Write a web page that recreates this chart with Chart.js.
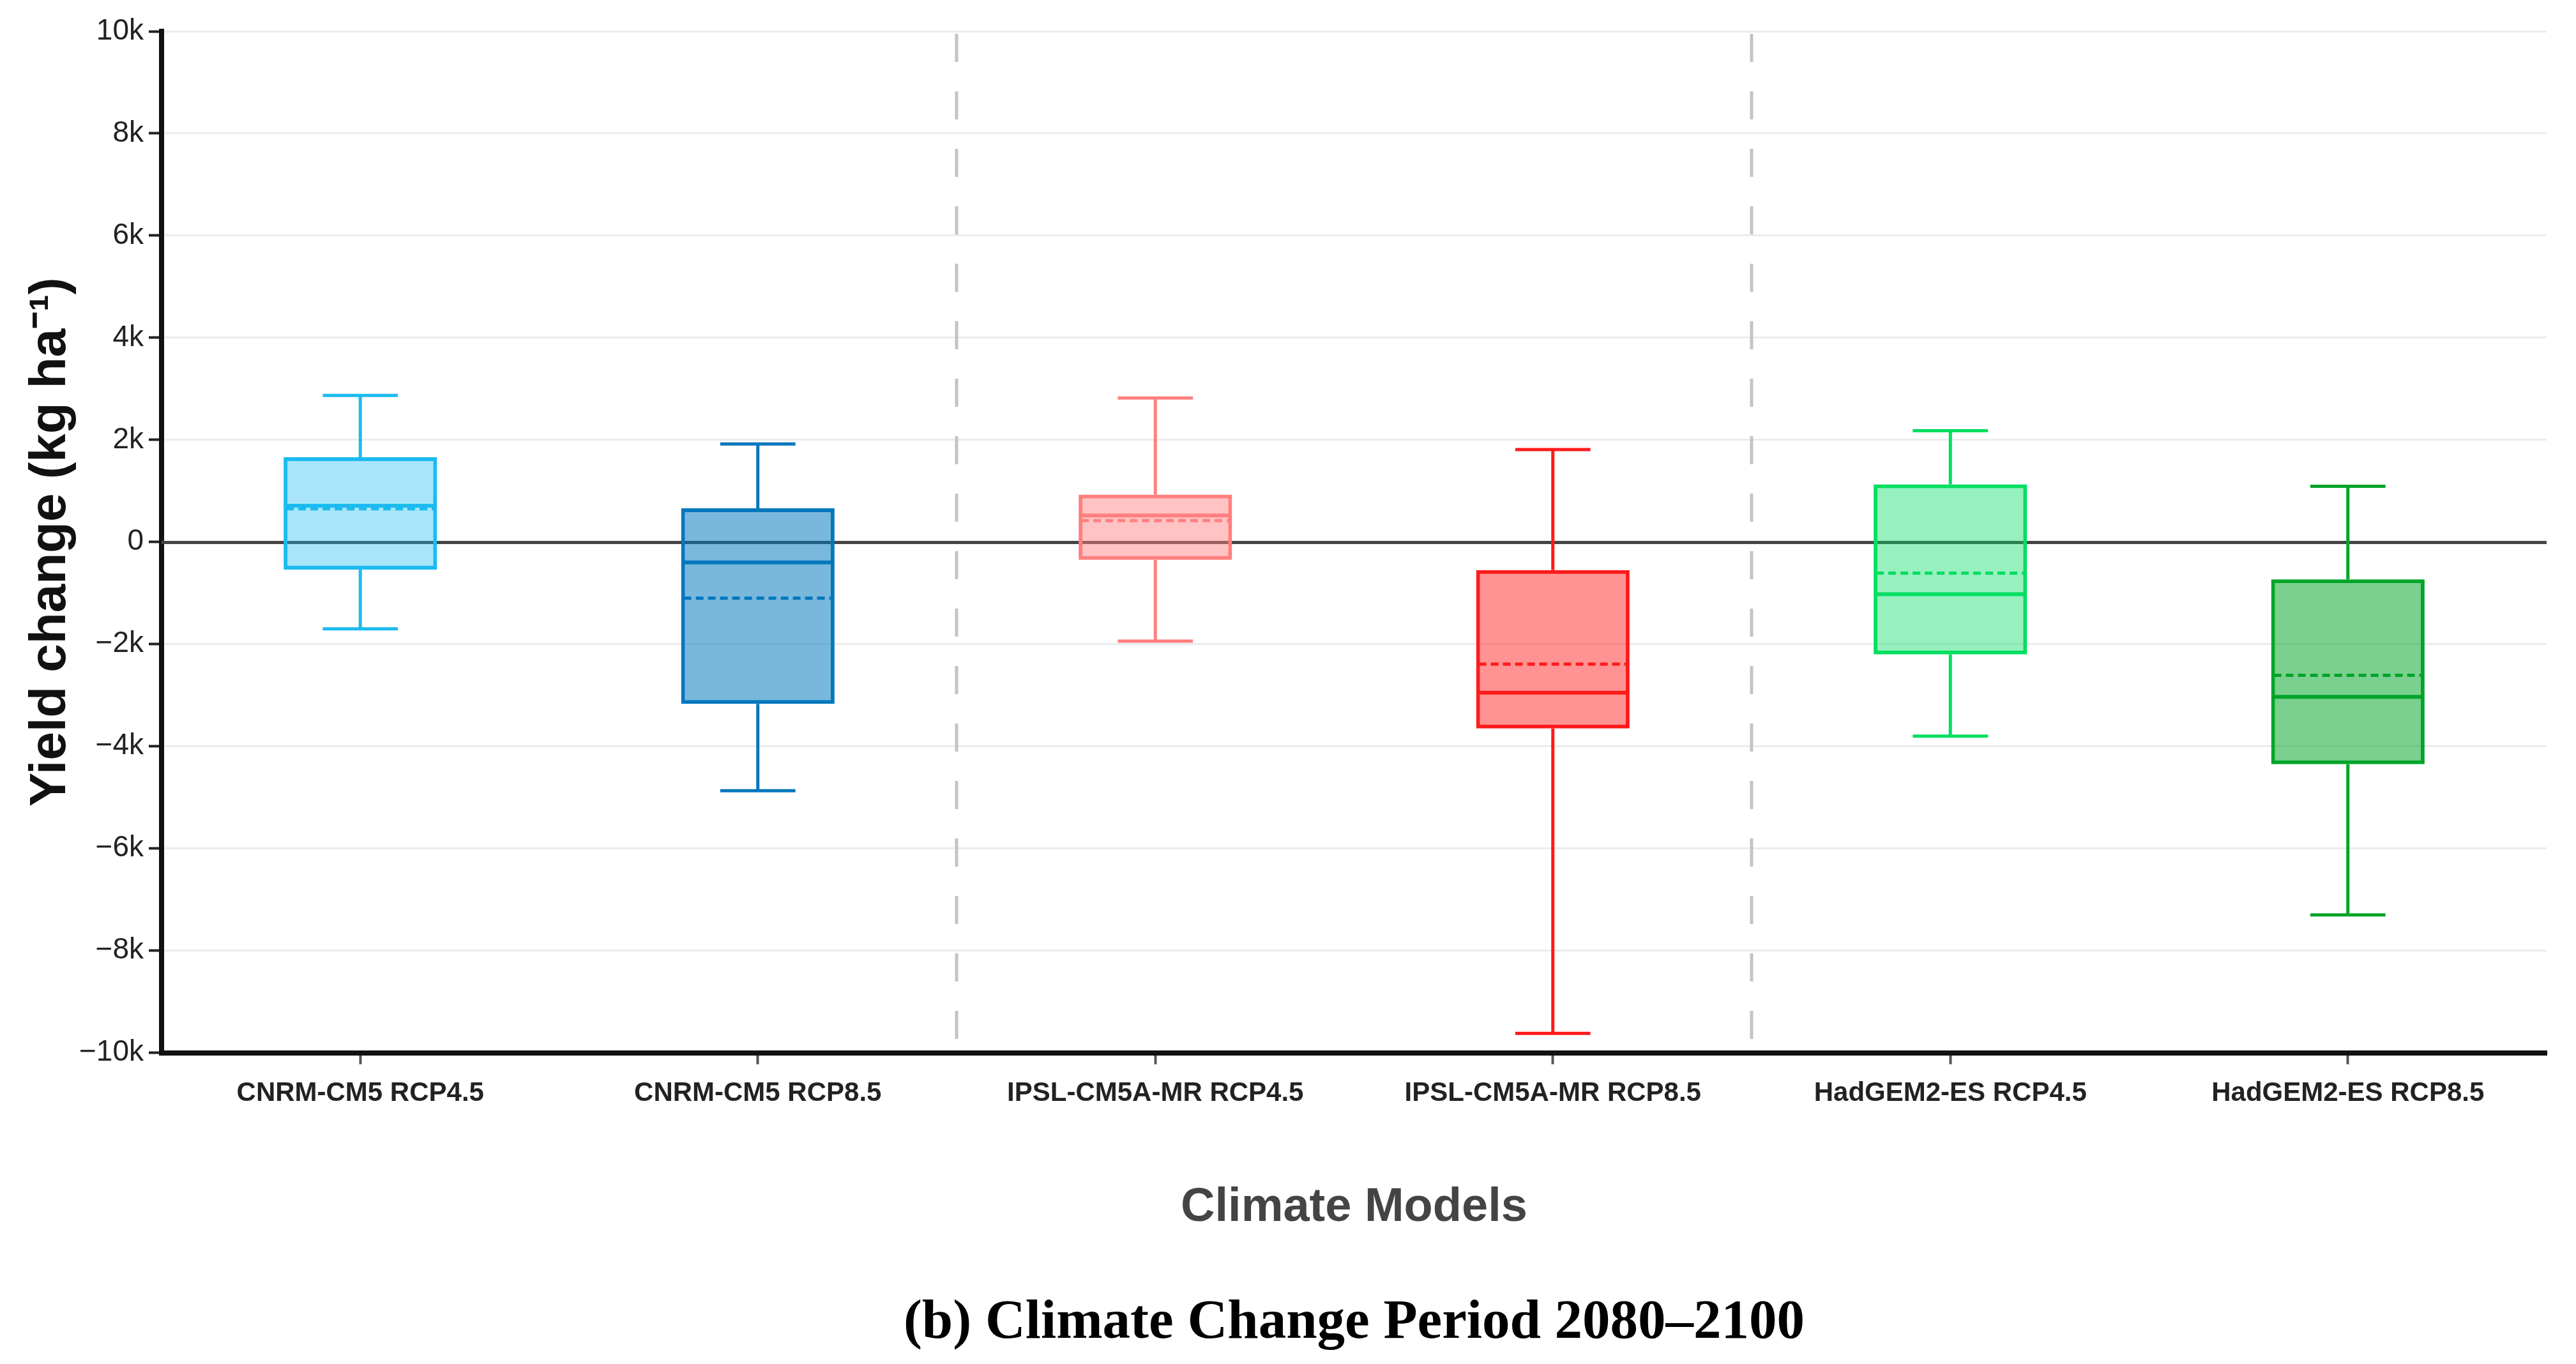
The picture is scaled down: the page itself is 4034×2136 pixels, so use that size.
<!DOCTYPE html>
<html>
<head>
<meta charset="utf-8">
<script src="https://cdn.jsdelivr.net/npm/chart.js@4.4.1/dist/chart.umd.min.js"></script>
<style>
    html, body { margin: 0; padding: 0; background: #fff; }
    #wrap { width: 4034px; height: 2136px; }
</style>
</head>
<body>
<div id="wrap"><canvas id="yieldChart"></canvas></div>
<script>
// values, kg/ha
const models = ['CNRM-CM5 RCP4.5', 'CNRM-CM5 RCP8.5', 'IPSL-CM5A-MR RCP4.5', 'IPSL-CM5A-MR RCP8.5', 'HadGEM2-ES RCP4.5', 'HadGEM2-ES RCP8.5'];
const whiskerLow = [-1700, -4870, -1940, -9620, -3800, -7300];
const q1 = [-540, -3170, -350, -3650, -2200, -4350];
const median = [710, -400, 520, -2950, -1020, -3030];
const mean = [650, -1100, 420, -2390, -610, -2610];
const q3 = [1660, 660, 930, -550, 1130, -730];
const whiskerHigh = [2870, 1920, 2820, 1810, 2180, 1090];
const separatorsAfter = [1, 3];

const lineColors = ['#1bbbf0', '#0277bd', '#ff7f7f', '#ff1a1a', '#00de60', '#00a428'];
const fillAlpha = [0.38, 0.53, 0.47, 0.47, 0.41, 0.52];

function withAlpha(hex, a) {
    const n = parseInt(hex.slice(1), 16);
    return 'rgba(' + (n >> 16) + ',' + ((n >> 8) & 255) + ',' + (n & 255) + ',' + a + ')';
}

function kLabel(v) {
    if (v === 0) return '0';
    return (v < 0 ? '\u2212' : '') + Math.abs(v) / 1000 + 'k';
}

const boxPlotLines = {
    id: 'boxPlotLines',
    beforeDatasetsDraw(chart) {
        const {ctx, chartArea, scales: {x, y}} = chart;
        ctx.save();
        // zero line
        const y0 = Math.round(y.getPixelForValue(0)) + 0.5;
        ctx.strokeStyle = '#444';
        ctx.lineWidth = 5;
        ctx.beginPath();
        ctx.moveTo(chartArea.left, y0);
        ctx.lineTo(chartArea.right, y0);
        ctx.stroke();
        // group separators
        ctx.strokeStyle = '#c4c4c4';
        ctx.setLineDash([44, 46]);
        separatorsAfter.forEach(i => {
            const px = (x.getPixelForValue(i) + x.getPixelForValue(i + 1)) / 2;
            ctx.beginPath();
            ctx.moveTo(px, chartArea.top + 4);
            ctx.lineTo(px, chartArea.bottom);
            ctx.stroke();
        });
        ctx.restore();
    },
    afterDatasetsDraw(chart) {
        const {ctx, scales: {y}} = chart;
        const bars = chart.getDatasetMeta(0).data;
        ctx.save();
        bars.forEach((bar, i) => {
            const cx = bar.x;
            const half = bar.width / 2;
            const cap = bar.width * 0.245;
            ctx.strokeStyle = lineColors[i];
            ctx.setLineDash([]);
            ctx.lineWidth = 5;
            // whiskers and caps
            ctx.beginPath();
            ctx.moveTo(cx, y.getPixelForValue(q3[i]));
            ctx.lineTo(cx, y.getPixelForValue(whiskerHigh[i]));
            ctx.moveTo(cx - cap, y.getPixelForValue(whiskerHigh[i]));
            ctx.lineTo(cx + cap, y.getPixelForValue(whiskerHigh[i]));
            ctx.moveTo(cx, y.getPixelForValue(q1[i]));
            ctx.lineTo(cx, y.getPixelForValue(whiskerLow[i]));
            ctx.moveTo(cx - cap, y.getPixelForValue(whiskerLow[i]));
            ctx.lineTo(cx + cap, y.getPixelForValue(whiskerLow[i]));
            ctx.stroke();
            // median
            ctx.lineWidth = 6;
            ctx.beginPath();
            ctx.moveTo(cx - half + 3, y.getPixelForValue(median[i]));
            ctx.lineTo(cx + half - 3, y.getPixelForValue(median[i]));
            ctx.stroke();
            // mean
            ctx.lineWidth = 5;
            ctx.setLineDash([12, 7]);
            ctx.beginPath();
            ctx.moveTo(cx - half + 4, y.getPixelForValue(mean[i]));
            ctx.lineTo(cx + half - 4, y.getPixelForValue(mean[i]));
            ctx.stroke();
        });
        ctx.restore();
    }
};

const ctx = document.getElementById('yieldChart');

new Chart(ctx, {
    type: 'bar',
    data: {
        labels: models,
        datasets: [{
            data: models.map((m, i) => [q1[i], q3[i]]),
            backgroundColor: lineColors.map((c, i) => withAlpha(c, fillAlpha[i])),
            borderColor: lineColors,
            borderWidth: 6,
            borderSkipped: false,
            barPercentage: 0.386,
            categoryPercentage: 1
        }]
    },
    options: {
        responsive: true,
        maintainAspectRatio: false,
        animation: false,
        devicePixelRatio: 1,
        layout: {
            padding: {top: 49, right: 46, bottom: 11, left: 0}
        },
        plugins: {
            legend: {display: false},
            tooltip: {enabled: false},
            title: {
                display: true,
                position: 'bottom',
                fullSize: false,
                text: '(b) Climate Change Period 2080\u20132100',
                color: '#000',
                font: {family: "'Liberation Serif', 'Times New Roman', serif", size: 87, weight: 'bold'},
                padding: 0
            }
        },
        scales: {
            x: {
                grid: {
                    display: true,
                    offset: false,
                    drawOnChartArea: false,
                    tickLength: 18,
                    tickColor: '#555',
                    tickWidth: 4
                },
                border: {color: '#111', width: 8},
                ticks: {
                    color: '#222',
                    font: {family: "'Liberation Sans', Arial, sans-serif", size: 42, weight: 'bold'},
                    padding: 21,
                    maxRotation: 0,
                    autoSkip: false
                },
                title: {
                    display: true,
                    text: 'Climate Models',
                    color: '#444',
                    font: {family: "'Liberation Sans', Arial, sans-serif", size: 74, weight: 'bold'},
                    padding: {top: 0, bottom: 85}
                },
                afterFit(scale) {
                    scale.height = 372;
                }
            },
            y: {
                min: -10000,
                max: 10000,
                grid: {
                    color: '#ececec',
                    lineWidth: 3,
                    tickColor: '#222',
                    tickWidth: 4,
                    tickLength: 20
                },
                border: {color: '#111', width: 8},
                ticks: {
                    stepSize: 2000,
                    color: '#222',
                    padding: 8,
                    font: {family: "'Liberation Sans', Arial, sans-serif", size: 46},
                    callback: kLabel
                },
                title: {
                    display: true,
                    text: 'Yield change (kg ha\u207B\u00B9)',
                    color: '#111',
                    font: {family: "'Liberation Sans', Arial, sans-serif", size: 80, weight: 'bold'},
                    padding: {top: 32, bottom: 0}
                },
                afterFit(scale) {
                    scale.width = 253;
                }
            }
        }
    },
    plugins: [boxPlotLines]
});
</script>
</body>
</html>
